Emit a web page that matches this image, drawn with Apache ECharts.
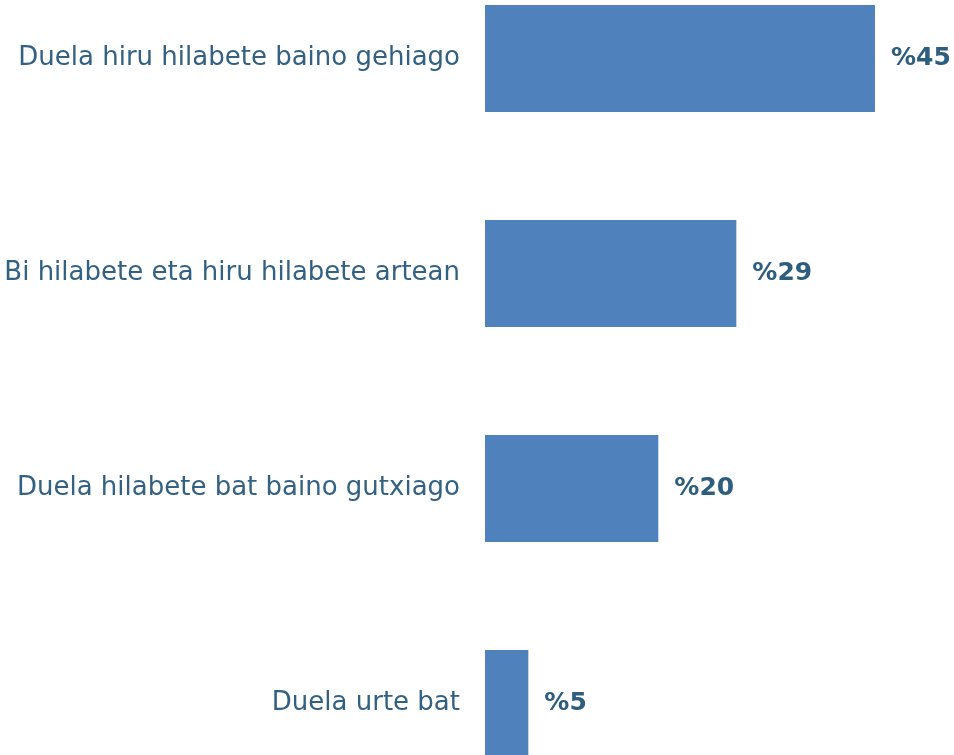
<!DOCTYPE html>
<html>
<head>
<meta charset="utf-8">
<script src="https://cdn.jsdelivr.net/npm/echarts@6/dist/echarts.min.js"></script>
<style>
  html, body { margin: 0; padding: 0; background: #fff; }
  #main { width: 954px; height: 755px; }
</style>
</head>
<body>
<div id="main"></div>
<script>
const categories = [
    'Duela hiru hilabete baino gehiago',
    'Bi hilabete eta hiru hilabete artean',
    'Duela hilabete bat baino gutxiago',
    'Duela urte bat'
];
const values = [45, 29, 20, 5];

const chart = echarts.init(document.getElementById('main'));

chart.setOption({
    animation: false,
    grid: {
        left: 485, right: 79, top: -49, bottom: -56,
        containLabel: false,
        outerBoundsMode: 'none'
    },
    xAxis: {
        type: 'value',
        min: 0,
        max: 45,
        show: false
    },
    yAxis: {
        type: 'category',
        data: categories,
        inverse: true,
        axisLine: { show: false },
        axisTick: { show: false },
        axisLabel: {
            margin: 25,
            color: '#336183',
            fontFamily: 'DejaVu Sans',
            fontSize: 26
        }
    },
    series: [{
        type: 'bar',
        data: values,
        barWidth: 107,
        itemStyle: { color: '#4F81BD' },
        label: {
            show: true,
            position: 'right',
            distance: 16,
            formatter: p => '%' + p.value,
            color: '#2E5E7E',
            fontFamily: 'DejaVu Sans',
            fontWeight: 'bold',
            fontSize: 25
        }
    }]
});
</script>
</body>
</html>
